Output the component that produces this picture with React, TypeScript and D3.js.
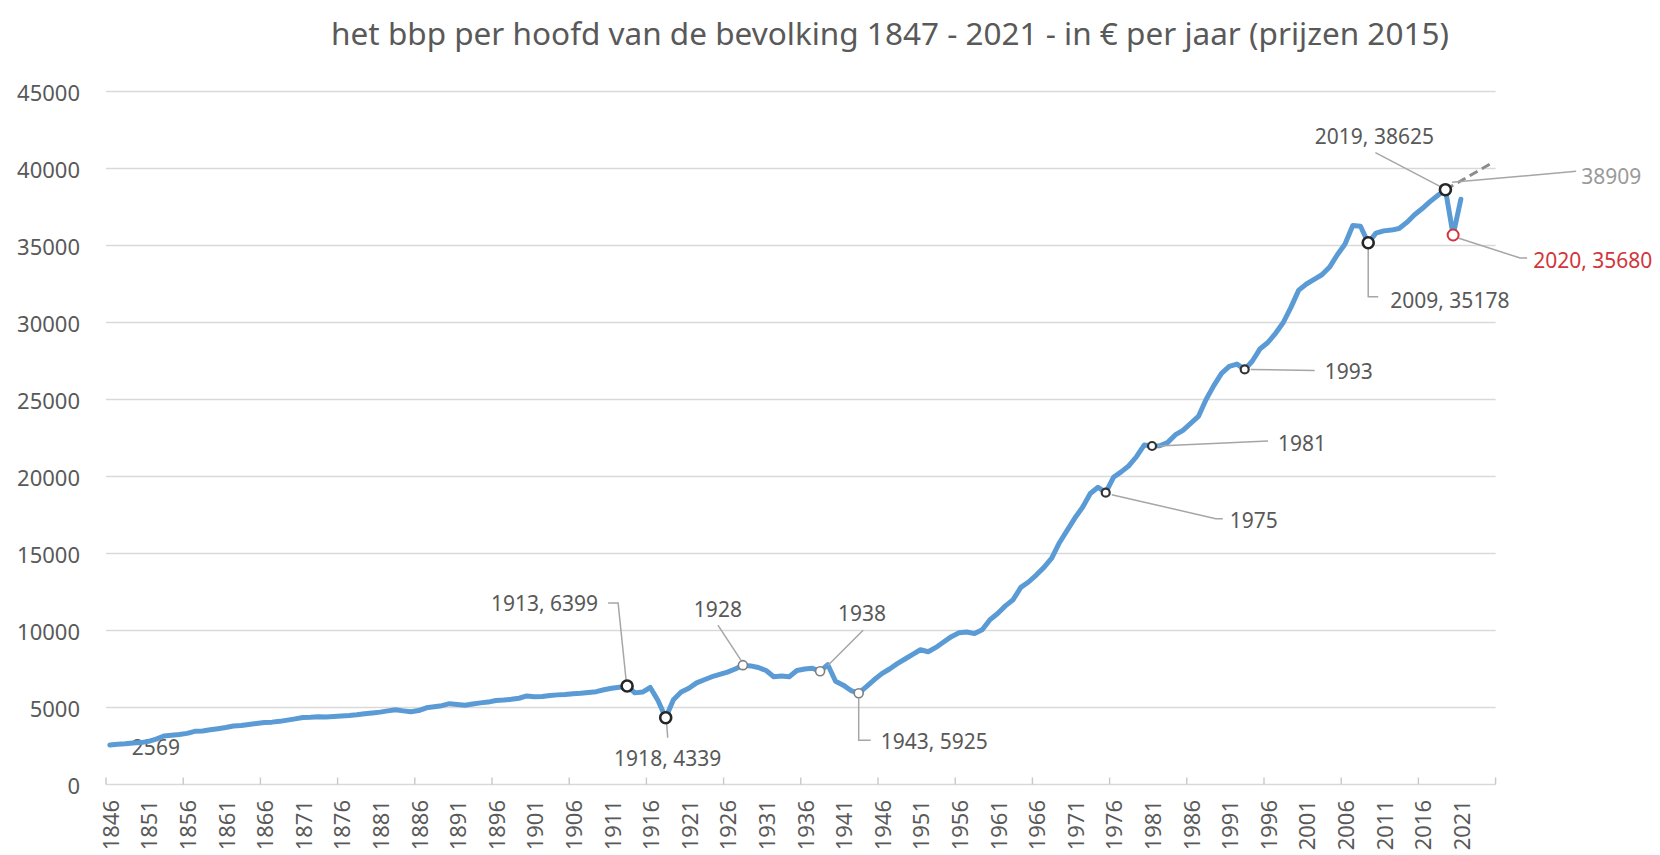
import * as d3 from 'd3';

// bbp per hoofd, 1846 - 2021, in € (prijzen 2015)
const firstYear = 1846;
const gdpPerCapita = [
  2569, 2620, 2650, 2700, 2720, 2800, 2950, 3150, 3200, 3250,
  3320, 3450, 3480, 3550, 3620, 3700, 3800, 3830, 3900, 3960,
  4020, 4050, 4100, 4180, 4260, 4350, 4360, 4400, 4380, 4420,
  4450, 4480, 4530, 4600, 4650, 4700, 4780, 4850, 4780, 4720,
  4800, 4980, 5050, 5120, 5250, 5200, 5150, 5230, 5300, 5350,
  5450, 5480, 5530, 5600, 5750, 5700, 5720, 5780, 5820, 5850,
  5900, 5930, 5980, 6030, 6150, 6250, 6320, 6399, 5950, 6000,
  6300, 5450, 4339, 5500, 6000, 6250, 6600, 6800, 7000, 7150,
  7300, 7500, 7750, 7700, 7600, 7400, 7000, 7050, 7000, 7400,
  7500, 7550, 7350, 7780, 6700, 6450, 6100, 5925, 6350, 6800,
  7200, 7500, 7850, 8150, 8450, 8750, 8620, 8900, 9250, 9600,
  9850, 9900, 9800, 10050, 10700, 11100, 11600, 12000, 12800, 13150,
  13600, 14100, 14700, 15700, 16500, 17300, 18000, 18900, 19300, 18950,
  19950, 20300, 20700, 21300, 22050, 21981, 22000, 22200, 22700, 23000,
  23450, 23900, 25000, 25900, 26700, 27150, 27300, 26950, 27500, 28300,
  28700, 29300, 30000, 31000, 32100, 32500, 32800, 33100, 33600, 34400,
  35100, 36300, 36250, 35178, 35800, 35950, 36000, 36100, 36500, 37000,
  37400, 37850, 38250, 38625, 35680, 38000,
];

// trend zonder corona-dip (gestippeld)
const trendYears = [2019, 2020, 2025];
const trendValues = [38625, 38909, 40350];

const axisYears = d3.range(1846, 2026);
const labelYears = d3.range(1846, 2022, 5);
const tickYears = d3.range(1846, 2026, 10);
const yTicks = d3.range(0, 45001, 5000);

const calloutYears = [1913, 1918, 1928, 1938, 1943, 1975, 1981, 1993, 2009, 2019, 2020];
const calloutTexts = [
  '1913, 6399', '1918, 4339', '1928', '1938', '1943, 5925',
  '1975', '1981', '1993', '2009, 35178', '2019, 38625', '2020, 35680',
];

const title = 'het bbp per hoofd van de bevolking 1847 - 2021 - in € per jaar (prijzen 2015)';

// label placement relative to the marker, in px
type Place = {
  dx: number;
  dy: number;
  anchor: 'start' | 'middle' | 'end';
  leader: [number, number][];
  marker: 'big' | 'thin' | 'dot' | 'red';
};
const placement: Record<number, Place> = {
  1913: { dx: -29, dy: -83, anchor: 'end', leader: [[-1, -6], [-9, -83], [-19, -83]], marker: 'big' },
  1918: { dx: 2, dy: 40, anchor: 'middle', leader: [[1, 6], [2, 20]], marker: 'big' },
  1928: { dx: -25, dy: -56, anchor: 'middle', leader: [[-2, -5], [-25, -40]], marker: 'thin' },
  1938: { dx: 42, dy: -58, anchor: 'middle', leader: [[8, -6], [43, -41]], marker: 'thin' },
  1943: { dx: 22, dy: 48, anchor: 'start', leader: [[0, 5], [0, 47], [12, 47]], marker: 'thin' },
  1975: { dx: 124, dy: 27, anchor: 'start', leader: [[6, 2], [110, 26], [117, 26]], marker: 'dot' },
  1981: { dx: 126, dy: -3, anchor: 'start', leader: [[6, 0], [116, -5]], marker: 'dot' },
  1993: { dx: 80, dy: 2, anchor: 'start', leader: [[6, 0], [70, 1]], marker: 'dot' },
  2009: { dx: 22, dy: 57, anchor: 'start', leader: [[0, 6], [0, 54], [10, 54]], marker: 'big' },
  2019: { dx: -71, dy: -54, anchor: 'middle', leader: [[-5, -3], [-70, -37]], marker: 'big' },
  2020: { dx: 80, dy: 25, anchor: 'start', leader: [[5, 3], [67, 23], [74, 23]], marker: 'red' },
};

const W = 1660;
const H = 855;
const textColor = '#595959';
const gridColor = '#d9d9d9';
const lineColor = '#5b9bd5';
const red = '#d2353b';

type Pt = { year: number; value: number };

export default function App() {
  const x = d3.scaleBand<number>().domain(axisYears).range([106, 1495.6]).padding(0);
  const cx = (yr: number) => (x(yr) ?? 0) + x.bandwidth() / 2;
  const y = d3.scaleLinear().domain([0, 45000]).range([784.5, 91.5]);

  const series: Pt[] = gdpPerCapita.map((v, i) => ({ year: firstYear + i, value: v }));
  const trend: Pt[] = trendYears.map((yr, i) => ({ year: yr, value: trendValues[i] }));
  const line = d3
    .line<Pt>()
    .x((d) => cx(d.year))
    .y((d) => y(d.value));

  const valueOf = (yr: number) => series.find((d) => d.year === yr)!.value;
  const axisEnd = x.range()[1];
  const first = series[0];

  const markerStyle = (kind: Place['marker']) => {
    if (kind === 'big') return { r: 5.5, stroke: '#262626', sw: 2.6 };
    if (kind === 'thin') return { r: 4.5, stroke: '#7f7f7f', sw: 1.6 };
    if (kind === 'dot') return { r: 4, stroke: '#333333', sw: 2.2 };
    return { r: 5.5, stroke: red, sw: 2 };
  };

  return (
    <div style={{ position: 'absolute', left: 0, top: 0 }}>
      <svg width={W} height={H} style={{ display: 'block', background: '#fff' }} fontFamily="'Noto Sans', sans-serif">
        <text x={890} y={45} textAnchor="middle" fontSize={31.5} fill={textColor}>
          {title}
        </text>

        {/* gridlines */}
        {yTicks.map((t) => (
          <line key={t} x1={x.range()[0]} x2={axisEnd} y1={y(t)} y2={y(t)} stroke={gridColor} strokeWidth={1.6} />
        ))}
        {yTicks.map((t) => (
          <text key={`l${t}`} x={80} y={y(t)} textAnchor="end" dominantBaseline="central" fontSize={22} fill={textColor}>
            {t}
          </text>
        ))}

        {/* category axis */}
        {tickYears.map((yr) => (
          <line key={yr} x1={x(yr)} x2={x(yr)} y1={y(0)} y2={y(0) - 7} stroke="#c8c8c8" strokeWidth={1.4} />
        ))}
        <line x1={axisEnd} x2={axisEnd} y1={y(0)} y2={y(0) - 7} stroke="#c8c8c8" strokeWidth={1.4} />
        {labelYears.map((yr) => (
          <text
            key={yr}
            transform={`translate(${cx(yr)},800) rotate(-90)`}
            textAnchor="end"
            dominantBaseline="central"
            fontSize={22}
            fill={textColor}
          >
            {yr}
          </text>
        ))}

        {/* first value label sits under the line */}
        <text x={cx(first.year) + 22} y={y(first.value) + 2} dominantBaseline="central" fontSize={21} fill={textColor}>
          {first.value}
        </text>

        <path d={line(trend) ?? ''} fill="none" stroke="#8c8c8c" strokeWidth={3} strokeDasharray="9 5" />
        <path d={line(series) ?? ''} fill="none" stroke={lineColor} strokeWidth={5} strokeLinejoin="round" strokeLinecap="round" />

        {/* trend value label */}
        {(() => {
          const px = cx(trend[1].year);
          const py = y(trend[1].value);
          return (
            <g>
              <polyline
                points={`${px - 1},${py - 3} ${px + 123},${py - 14}`}
                fill="none"
                stroke="#a6a6a6"
                strokeWidth={1.5}
              />
              <text x={px + 128} y={py - 9} dominantBaseline="central" fontSize={21} fill="#9a9a9a">
                {trend[1].value}
              </text>
            </g>
          );
        })()}

        {calloutYears.map((yr, i) => {
          const p = placement[yr];
          const px = cx(yr);
          const py = y(valueOf(yr));
          const m = markerStyle(p.marker);
          return (
            <g key={yr}>
              <polyline
                points={p.leader.map(([dx, dy]) => `${px + dx},${py + dy}`).join(' ')}
                fill="none"
                stroke="#a6a6a6"
                strokeWidth={1.5}
              />
              <circle cx={px} cy={py} r={m.r} fill="#fff" stroke={m.stroke} strokeWidth={m.sw} />
              <text
                x={px + p.dx}
                y={py + p.dy}
                textAnchor={p.anchor}
                dominantBaseline="central"
                fontSize={21}
                fill={p.marker === 'red' ? red : textColor}
              >
                {calloutTexts[i]}
              </text>
            </g>
          );
        })}
      </svg>
    </div>
  );
}
